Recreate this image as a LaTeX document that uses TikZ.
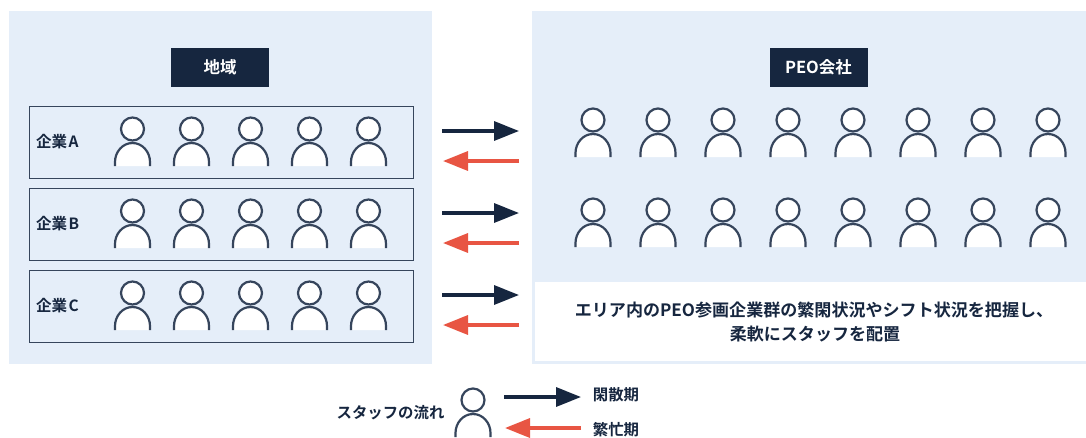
\documentclass[tikz,border=0pt]{standalone}
\usepackage{fontspec}
\setmainfont{Noto Sans CJK JP}[BoldFont={Noto Sans CJK JP Bold}]
\usetikzlibrary{arrows.meta}
\definecolor{panelc}{HTML}{E5EEF9}
\definecolor{darkc}{HTML}{16263F}
\definecolor{redc}{HTML}{E85543}
\definecolor{linec}{HTML}{36455C}
\tikzset{
  x=1pt,y=-1pt,
  panel/.style={fill=panelc,draw=none},
  titlebox/.style={fill=darkc,text=white,font=\fontsize{16.5}{20}\selectfont\bfseries,inner sep=0pt,minimum width=98pt,minimum height=39pt},
  rowbox/.style={draw=linec,line width=1pt,fill=none,inner sep=0pt,minimum width=384pt,minimum height=72pt},
  lab/.style={text=darkc,font=\fontsize{15.5}{19}\selectfont\bfseries,inner sep=0pt},
  notetext/.style={lab,font=\fontsize{17.05}{21}\selectfont\bfseries},
  keytext/.style={lab,font=\fontsize{15.4}{19}\selectfont\bfseries},
  flowdark/.style={draw=darkc,line width=3.4pt,-{Triangle[length=25pt,width=19pt]}},
  flowred/.style={draw=redc,line width=3.4pt,-{Triangle[length=25pt,width=19pt]}},
  person/.pic={
    \path[fill=white] (-17.5,37) -- (-17.5,33) .. controls (-17.5,23) and (-10,14) .. (0,14) .. controls (10,14) and (17.5,23) .. (17.5,33) -- (17.5,37) -- cycle;
    \draw[linec,line width=2.2pt] (-17.5,37) -- (-17.5,33) .. controls (-17.5,23) and (-10,14) .. (0,14) .. controls (10,14) and (17.5,23) .. (17.5,33) -- (17.5,37);
    \draw[linec,line width=2.2pt,fill=white] (0,0) circle[radius=11.5];
  }
}
\begin{document}
\begin{tikzpicture}
\useasboundingbox (0,0) rectangle (1086,437);
\fill[white] (0,0) rectangle (1086,437);
\node[panel,minimum width=423pt,minimum height=353pt,inner sep=0pt] (left) at (220.5,187.5) {};
\node[panel,minimum width=554pt,minimum height=353pt,inner sep=0pt] (right) at (809,187.5) {};
\node[fill=white,minimum width=551pt,minimum height=79pt,inner sep=0pt] (note) at (810.5,321.5) {};
\node[titlebox] (t1) at (220,67.5) {地域};
\node[titlebox] (t2) at (818.5,67.5) {PEO会社};
\node[rowbox] (ra) at (221,142) {};
\node[rowbox] (rb) at (221,224) {};
\node[rowbox] (rc) at (221,306) {};
\node[lab,anchor=west] (la) at (36,142) {企業\kern1.5pt A};
\node[lab,anchor=west] (lb) at (36,224) {企業\kern1.5pt B};
\node[lab,anchor=west] (lc) at (36,306) {企業\kern1.5pt C};
\foreach \y in {129,211,293}
  \foreach \x in {132.5,191.5,250.5,309.5,368.5}
    \pic at (\x,\y) {person};
\foreach \y in {120,210}
  \foreach \x in {593,658,723,788,853,918,983,1048}
    \pic at (\x,\y) {person};
\coordinate (a1) at (442,131); \coordinate (a2) at (519,131);
\coordinate (a3) at (519,161); \coordinate (a4) at (443,161);
\coordinate (b1) at (442,213); \coordinate (b2) at (519,213);
\coordinate (b3) at (519,243); \coordinate (b4) at (443,243);
\coordinate (c1) at (442,295); \coordinate (c2) at (519,295);
\coordinate (c3) at (519,325); \coordinate (c4) at (443,325);
\draw[flowdark] (a1) -- (a2);
\draw[flowred] (a3) -- (a4);
\draw[flowdark] (b1) -- (b2);
\draw[flowred] (b3) -- (b4);
\draw[flowdark] (c1) -- (c2);
\draw[flowred] (c3) -- (c4);
\node[notetext] (n1) at (814,310) {エリア内のPEO参画企業群の繁閑状況やシフト状況を把握し、};
\node[notetext] (n2) at (815,334) {柔軟にスタッフを配置};
\pic at (473,400) {person};
\node[keytext] (k0) at (390.5,412.5) {スタッフの流れ};
\coordinate (k1) at (504,397); \coordinate (k2) at (581,397);
\coordinate (k3) at (581,428); \coordinate (k4) at (505,428);
\draw[flowdark] (k1) -- (k2);
\draw[flowred] (k3) -- (k4);
\node[keytext] (k5) at (616,395) {閑散期};
\node[keytext] (k6) at (616,430) {繁忙期};
\end{tikzpicture}
\end{document}
